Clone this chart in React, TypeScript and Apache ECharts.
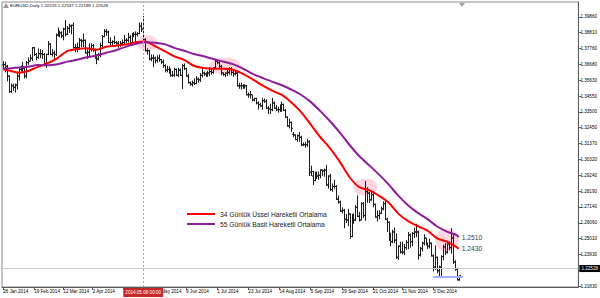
import React, { useEffect, useRef } from "react";
import * as echarts from "echarts";

const SYMBOL = "EURUSD,Daily";
const FIRST_DAY = "2014-01-28";
const SLOT_COUNT = 296;
const FONT = "Liberation Sans";

// rows: [open, close, low, high]
const janBars = [
  [1.3665, 1.3667, 1.364, 1.369],
  [1.3667, 1.3655, 1.3615, 1.3685],
  [1.3655, 1.359, 1.3555, 1.3665],
  [1.359, 1.3486, 1.3478, 1.3595],
];
const febBars = [
  [1.3486, 1.3525, 1.3476, 1.354],
  [1.3525, 1.3515, 1.349, 1.354],
  [1.3515, 1.353, 1.348, 1.354],
  [1.353, 1.359, 1.35, 1.362],
  [1.359, 1.3635, 1.356, 1.3645],
  [1.3635, 1.364, 1.362, 1.366],
  [1.364, 1.364, 1.362, 1.3685],
  [1.364, 1.359, 1.3575, 1.3655],
  [1.359, 1.368, 1.3575, 1.369],
  [1.368, 1.369, 1.3665, 1.3715],
  [1.369, 1.371, 1.369, 1.3735],
  [1.371, 1.378, 1.369, 1.3785],
  [1.378, 1.3735, 1.3725, 1.3785],
  [1.3735, 1.3715, 1.3695, 1.3745],
  [1.3715, 1.374, 1.3705, 1.3775],
  [1.374, 1.374, 1.371, 1.377],
  [1.374, 1.3735, 1.3705, 1.3765],
  [1.3735, 1.3675, 1.3655, 1.3745],
  [1.3675, 1.3735, 1.3645, 1.374],
  [1.3735, 1.3805, 1.373, 1.3825],
];
const marBars = [
  [1.3805, 1.3735, 1.373, 1.381],
  [1.3735, 1.3745, 1.372, 1.377],
  [1.3745, 1.3735, 1.3705, 1.376],
  [1.3735, 1.3865, 1.3725, 1.3875],
  [1.3865, 1.3875, 1.3855, 1.3915],
  [1.3875, 1.388, 1.385, 1.3895],
  [1.388, 1.386, 1.3845, 1.389],
  [1.386, 1.3905, 1.383, 1.3915],
  [1.3905, 1.387, 1.3855, 1.3967],
  [1.387, 1.391, 1.3865, 1.3925],
  [1.391, 1.3925, 1.388, 1.394],
  [1.3925, 1.393, 1.387, 1.3935],
  [1.393, 1.378, 1.3775, 1.395],
  [1.378, 1.378, 1.375, 1.3805],
  [1.378, 1.378, 1.375, 1.3815],
  [1.378, 1.383, 1.3765, 1.3845],
  [1.383, 1.3825, 1.3785, 1.384],
  [1.3825, 1.383, 1.3785, 1.3875],
  [1.383, 1.3745, 1.374, 1.3835],
  [1.3745, 1.375, 1.3705, 1.377],
  [1.375, 1.377, 1.372, 1.381],
];
const aprBars = [
  [1.377, 1.3795, 1.3755, 1.381],
  [1.3795, 1.3765, 1.375, 1.3805],
  [1.3765, 1.3715, 1.3705, 1.3775],
  [1.3715, 1.3705, 1.367, 1.3735],
  [1.3705, 1.373, 1.3695, 1.3745],
  [1.373, 1.3795, 1.3715, 1.3815],
  [1.3795, 1.3855, 1.3775, 1.3865],
  [1.3855, 1.389, 1.385, 1.3905],
  [1.389, 1.3885, 1.386, 1.3905],
  [1.3885, 1.3815, 1.381, 1.3895],
  [1.3815, 1.3815, 1.379, 1.385],
  [1.3815, 1.382, 1.3795, 1.383],
  [1.382, 1.3815, 1.3805, 1.386],
  [1.3815, 1.381, 1.38, 1.3825],
  [1.381, 1.3795, 1.378, 1.3825],
  [1.3795, 1.381, 1.3785, 1.3825],
  [1.381, 1.3815, 1.379, 1.3835],
  [1.3815, 1.383, 1.3805, 1.3865],
  [1.383, 1.383, 1.381, 1.3845],
  [1.383, 1.385, 1.3815, 1.388],
  [1.385, 1.3815, 1.3795, 1.3865],
  [1.3815, 1.387, 1.381, 1.388],
];
const mayBars = [
  [1.387, 1.387, 1.385, 1.3885],
  [1.387, 1.387, 1.382, 1.389],
  [1.387, 1.3875, 1.3855, 1.3885],
  [1.3875, 1.3925, 1.387, 1.395],
  [1.3925, 1.3905, 1.3885, 1.395],
  [1.3905, 1.3835, 1.383, 1.3993],
  [1.3835, 1.376, 1.3755, 1.3845],
  [1.376, 1.376, 1.3735, 1.3775],
  [1.376, 1.3705, 1.3695, 1.3765],
  [1.3705, 1.371, 1.369, 1.3735],
  [1.371, 1.371, 1.365, 1.3735],
  [1.371, 1.3695, 1.3675, 1.372],
  [1.3695, 1.371, 1.368, 1.373],
  [1.371, 1.37, 1.3685, 1.3735],
  [1.37, 1.3685, 1.367, 1.3705],
  [1.3685, 1.366, 1.3645, 1.37],
  [1.366, 1.363, 1.3615, 1.367],
  [1.363, 1.3635, 1.3615, 1.366],
  [1.3635, 1.363, 1.3605, 1.3655],
  [1.363, 1.3595, 1.3585, 1.364],
  [1.3595, 1.3595, 1.3585, 1.3625],
  [1.3595, 1.3635, 1.3585, 1.3645],
];
const junBars = [
  [1.3635, 1.3595, 1.359, 1.364],
  [1.3595, 1.363, 1.3585, 1.3645],
  [1.363, 1.3595, 1.359, 1.364],
  [1.3595, 1.366, 1.3503, 1.367],
  [1.366, 1.364, 1.363, 1.3675],
  [1.364, 1.359, 1.3585, 1.3645],
  [1.359, 1.3545, 1.354, 1.3605],
  [1.3545, 1.3535, 1.3525, 1.3555],
  [1.3535, 1.3545, 1.352, 1.356],
  [1.3545, 1.354, 1.353, 1.3575],
  [1.354, 1.357, 1.3535, 1.359],
  [1.357, 1.3565, 1.3545, 1.358],
  [1.3565, 1.3595, 1.355, 1.361],
  [1.3595, 1.361, 1.358, 1.364],
  [1.361, 1.3605, 1.359, 1.362],
  [1.3605, 1.3605, 1.3585, 1.3615],
  [1.3605, 1.361, 1.3585, 1.3625],
  [1.361, 1.362, 1.359, 1.365],
  [1.362, 1.3615, 1.36, 1.364],
  [1.3615, 1.3645, 1.3605, 1.365],
  [1.3645, 1.369, 1.3635, 1.37],
];
const julBars = [
  [1.369, 1.368, 1.367, 1.37],
  [1.368, 1.3655, 1.3645, 1.3695],
  [1.3655, 1.361, 1.3595, 1.3665],
  [1.361, 1.36, 1.359, 1.3615],
  [1.36, 1.361, 1.3585, 1.3615],
  [1.361, 1.3615, 1.359, 1.3635],
  [1.3615, 1.364, 1.36, 1.365],
  [1.364, 1.3615, 1.3595, 1.365],
  [1.3615, 1.3605, 1.3585, 1.3625],
  [1.3605, 1.361, 1.3595, 1.363],
  [1.361, 1.3525, 1.352, 1.362],
  [1.3525, 1.3525, 1.3505, 1.3545],
  [1.3525, 1.3525, 1.35, 1.3545],
  [1.3525, 1.3525, 1.3505, 1.3535],
  [1.3525, 1.3525, 1.3505, 1.3535],
  [1.3525, 1.3465, 1.346, 1.353],
  [1.3465, 1.3465, 1.3445, 1.348],
  [1.3465, 1.3465, 1.344, 1.349],
  [1.3465, 1.343, 1.342, 1.3465],
  [1.343, 1.344, 1.342, 1.3445],
  [1.344, 1.341, 1.34, 1.3445],
  [1.341, 1.34, 1.3365, 1.342],
  [1.34, 1.339, 1.3385, 1.341],
];
const augBars = [
  [1.339, 1.3425, 1.3365, 1.3445],
  [1.3425, 1.342, 1.341, 1.344],
  [1.342, 1.3375, 1.337, 1.3435],
  [1.3375, 1.337, 1.3335, 1.339],
  [1.337, 1.3365, 1.3335, 1.3405],
  [1.3365, 1.341, 1.3355, 1.3445],
  [1.341, 1.3375, 1.337, 1.342],
  [1.3375, 1.3365, 1.3355, 1.3395],
  [1.3365, 1.3365, 1.3345, 1.3385],
  [1.3365, 1.336, 1.335, 1.34],
  [1.336, 1.34, 1.335, 1.342],
  [1.34, 1.336, 1.3355, 1.3405],
  [1.336, 1.3315, 1.331, 1.337],
  [1.3315, 1.3255, 1.325, 1.332],
  [1.3255, 1.328, 1.324, 1.3305],
  [1.328, 1.324, 1.3215, 1.3285],
  [1.32, 1.3195, 1.318, 1.3215],
  [1.3195, 1.3165, 1.316, 1.32],
  [1.3165, 1.319, 1.315, 1.32],
  [1.319, 1.318, 1.315, 1.3215],
  [1.318, 1.313, 1.312, 1.319],
];
const sepBars = [
  [1.313, 1.313, 1.312, 1.3145],
  [1.313, 1.313, 1.311, 1.315],
  [1.313, 1.315, 1.3115, 1.317],
  [1.315, 1.2945, 1.292, 1.316],
  [1.2945, 1.295, 1.292, 1.299],
  [1.292, 1.289, 1.286, 1.2955],
  [1.289, 1.294, 1.2885, 1.295],
  [1.294, 1.292, 1.29, 1.295],
  [1.292, 1.2925, 1.2895, 1.295],
  [1.2925, 1.296, 1.2905, 1.2965],
  [1.296, 1.2955, 1.292, 1.2965],
  [1.2955, 1.296, 1.2915, 1.297],
  [1.296, 1.286, 1.2855, 1.2995],
  [1.286, 1.292, 1.2835, 1.2925],
  [1.292, 1.283, 1.282, 1.2935],
  [1.283, 1.285, 1.2815, 1.287],
  [1.285, 1.285, 1.2835, 1.2895],
  [1.285, 1.2765, 1.276, 1.286],
  [1.2765, 1.2745, 1.2735, 1.279],
  [1.2745, 1.2685, 1.268, 1.2755],
  [1.2685, 1.269, 1.267, 1.271],
  [1.269, 1.263, 1.257, 1.27],
];
const octBars = [
  [1.263, 1.2625, 1.2605, 1.2665],
  [1.2625, 1.2665, 1.2585, 1.27],
  [1.2665, 1.2515, 1.25, 1.267],
  [1.2515, 1.266, 1.251, 1.2665],
  [1.266, 1.2625, 1.26, 1.267],
  [1.2625, 1.271, 1.262, 1.2725],
  [1.271, 1.265, 1.2645, 1.279],
  [1.265, 1.2625, 1.2615, 1.268],
  [1.2625, 1.2735, 1.2625, 1.2745],
  [1.2735, 1.2655, 1.264, 1.2745],
  [1.2655, 1.2815, 1.262, 1.2887],
  [1.2815, 1.2805, 1.274, 1.2845],
  [1.2805, 1.276, 1.274, 1.2815],
  [1.276, 1.2795, 1.2755, 1.2825],
  [1.2795, 1.273, 1.271, 1.282],
  [1.273, 1.2645, 1.264, 1.2735],
  [1.2645, 1.2655, 1.2615, 1.269],
  [1.2655, 1.267, 1.263, 1.269],
  [1.267, 1.27, 1.2665, 1.2715],
  [1.27, 1.2735, 1.269, 1.275],
  [1.2735, 1.263, 1.2625, 1.276],
  [1.263, 1.261, 1.2545, 1.264],
  [1.261, 1.2525, 1.2485, 1.2615],
];
const novBars = [
  [1.2525, 1.248, 1.245, 1.254],
  [1.248, 1.2545, 1.247, 1.256],
  [1.2545, 1.249, 1.247, 1.2575],
  [1.249, 1.2375, 1.2365, 1.2535],
  [1.2375, 1.245, 1.2358, 1.2455],
  [1.245, 1.241, 1.24, 1.248],
  [1.241, 1.241, 1.2395, 1.248],
  [1.241, 1.244, 1.239, 1.2465],
  [1.244, 1.2475, 1.2425, 1.249],
  [1.2475, 1.2525, 1.243, 1.2545],
  [1.2525, 1.248, 1.244, 1.2535],
  [1.248, 1.2535, 1.245, 1.2545],
  [1.2535, 1.2545, 1.2505, 1.2575],
  [1.2545, 1.2545, 1.251, 1.26],
  [1.2545, 1.239, 1.236, 1.2555],
  [1.239, 1.2435, 1.238, 1.2445],
  [1.2435, 1.247, 1.2415, 1.248],
  [1.247, 1.2505, 1.2455, 1.253],
  [1.2505, 1.2465, 1.2455, 1.2505],
  [1.2465, 1.245, 1.243, 1.2475],
];
const decBars = [
  [1.245, 1.247, 1.2435, 1.25],
  [1.247, 1.2385, 1.238, 1.2475],
  [1.2385, 1.231, 1.228, 1.2395],
  [1.231, 1.2375, 1.229, 1.2455],
  [1.2375, 1.2285, 1.227, 1.238],
  [1.2285, 1.231, 1.2245, 1.232],
  [1.231, 1.238, 1.2245, 1.239],
  [1.238, 1.2445, 1.2355, 1.246],
  [1.2445, 1.241, 1.239, 1.247],
  [1.241, 1.2465, 1.24, 1.2475],
  [1.2465, 1.244, 1.2425, 1.248],
  [1.244, 1.2505, 1.24, 1.257],
  [1.2505, 1.2345, 1.233, 1.2525],
  [1.2345, 1.2295, 1.2285, 1.2355],
  [1.2295, 1.2225, 1.222, 1.2305],
  [1.22225, 1.22528, 1.22189, 1.22537],
];

const xLabelDates = [
  "2014.01.28", "2014.02.19", "2014.03.12", "2014.04.02", "2014.04.24",
  "2014.05.16", "2014.06.09", "2014.07.01", "2014.07.23", "2014.08.14",
  "2014.09.05", "2014.09.29", "2014.10.21", "2014.11.11", "2014.12.03",
];
const priceTicks = [
  1.3986, 1.3881, 1.3776, 1.3668, 1.3563, 1.3455, 1.335, 1.3245, 1.3137,
  1.3032, 1.2924, 1.2819, 1.2714, 1.2606, 1.2501, 1.2393, 1.2288, 1.2183,
];

const emaName = "34 Günlük Üssel Hareketli Ortalama";
const smaName = "55 Günlük Basit Hareketli Ortalama";
const emaPoints = [
  ["2014.01.28", 1.3636], ["2014.01.31", 1.3628], ["2014.02.07", 1.3613], ["2014.02.14", 1.3624],
  ["2014.02.21", 1.3652], ["2014.02.28", 1.3677], ["2014.03.07", 1.3711], ["2014.03.14", 1.3757],
  ["2014.03.21", 1.3771], ["2014.03.28", 1.3776], ["2014.04.04", 1.3766], ["2014.04.11", 1.3787],
  ["2014.04.18", 1.3794], ["2014.04.25", 1.3801], ["2014.05.02", 1.3816], ["2014.05.09", 1.3822],
  ["2014.05.16", 1.3791], ["2014.05.23", 1.3758], ["2014.05.30", 1.3722], ["2014.06.06", 1.3699],
  ["2014.06.13", 1.3659], ["2014.06.20", 1.3644], ["2014.06.27", 1.3639], ["2014.07.04", 1.3639],
  ["2014.07.11", 1.3633], ["2014.07.18", 1.3607], ["2014.07.25", 1.357], ["2014.08.01", 1.3529],
  ["2014.08.08", 1.3494], ["2014.08.15", 1.3465], ["2014.08.22", 1.3415], ["2014.08.29", 1.335],
  ["2014.09.05", 1.3266], ["2014.09.12", 1.318], ["2014.09.19", 1.3106], ["2014.09.26", 1.3015],
  ["2014.10.03", 1.2912], ["2014.10.10", 1.2845], ["2014.10.17", 1.2826], ["2014.10.24", 1.2789],
  ["2014.10.31", 1.2743], ["2014.11.07", 1.2668], ["2014.11.14", 1.2618], ["2014.11.21", 1.2585],
  ["2014.11.28", 1.2554], ["2014.12.05", 1.2502], ["2014.12.12", 1.2481], ["2014.12.19", 1.2443],
  ["2014.12.22", 1.2432],
];
const smaPoints = [
  ["2014.01.28", 1.364], ["2014.01.31", 1.3641], ["2014.02.07", 1.3647], ["2014.02.14", 1.3653],
  ["2014.02.21", 1.3664], ["2014.02.28", 1.3662], ["2014.03.07", 1.3669], ["2014.03.14", 1.3687],
  ["2014.03.21", 1.3699], ["2014.03.28", 1.3716], ["2014.04.04", 1.3728], ["2014.04.11", 1.3746],
  ["2014.04.18", 1.3763], ["2014.04.25", 1.3786], ["2014.05.02", 1.3805], ["2014.05.09", 1.3816],
  ["2014.05.16", 1.3814], ["2014.05.23", 1.3804], ["2014.05.30", 1.3779], ["2014.06.06", 1.376],
  ["2014.06.13", 1.3738], ["2014.06.20", 1.3723], ["2014.06.27", 1.3704], ["2014.07.04", 1.3688],
  ["2014.07.11", 1.367], ["2014.07.18", 1.3642], ["2014.07.25", 1.3606], ["2014.08.01", 1.3579],
  ["2014.08.08", 1.3553], ["2014.08.15", 1.353], ["2014.08.22", 1.35], ["2014.08.29", 1.3465],
  ["2014.09.05", 1.3417], ["2014.09.12", 1.3355], ["2014.09.19", 1.3287], ["2014.09.26", 1.3211],
  ["2014.10.03", 1.3128], ["2014.10.10", 1.3053], ["2014.10.17", 1.2993], ["2014.10.24", 1.2931],
  ["2014.10.31", 1.2864], ["2014.11.07", 1.2789], ["2014.11.14", 1.2724], ["2014.11.21", 1.2673],
  ["2014.11.28", 1.2631], ["2014.12.05", 1.2582], ["2014.12.12", 1.2548], ["2014.12.19", 1.2524],
  ["2014.12.22", 1.251],
];
const maEndLabels = ["1.2430", "1.2510"];

const highlightPoints = [
  ["2014.05.12", 1.3812],
  ["2014.07.07", 1.3658],
  ["2014.10.15", 1.2847],
  ["2014.12.12", 1.2491],
];
const highlightSizes = [[21, 16], [32, 17], [24, 17], [24, 23]];

const crosshairDate = "2014.05.08";
const supportFrom = "2014.12.03";
const supportTo = "2014.12.24";
const supportPrice = 1.2245;

const MONTHS = ["Jan", "Feb", "Mar", "Apr", "May", "Jun", "Jul", "Aug", "Sep", "Oct", "Nov", "Dec"];

function buildCategories(): string[] {
  const out: string[] = [];
  const d = new Date(FIRST_DAY + "T00:00:00Z");
  while (out.length < SLOT_COUNT) {
    const wd = d.getUTCDay();
    if (wd !== 0 && wd !== 6) {
      out.push(
        `${d.getUTCFullYear()}.${String(d.getUTCMonth() + 1).padStart(2, "0")}.${String(d.getUTCDate()).padStart(2, "0")}`
      );
    }
    d.setUTCDate(d.getUTCDate() + 1);
  }
  return out;
}

const fmt5 = (v: number) => v.toFixed(5);

export default function App() {
  const ref = useRef<HTMLDivElement>(null);

  useEffect(() => {
    if (!ref.current) return;
    const chart = echarts.init(ref.current, null, { renderer: "svg" });
    const categories = buildCategories();
    const allBars = [
      ...janBars, ...febBars, ...marBars, ...aprBars, ...mayBars, ...junBars,
      ...julBars, ...augBars, ...sepBars, ...octBars, ...novBars, ...decBars,
    ];
    const last = allBars[allBars.length - 1];
    const lastClose = last[1];
    const showLabel = (_i: number, v: string) => xLabelDates.includes(v);
    const barColor = "#1c1c1c";

    const option: any = {
      animation: false,
      backgroundColor: "#ffffff",
      textStyle: { fontFamily: FONT },
      title: {
        text: `${SYMBOL} ${fmt5(last[0])} ${fmt5(last[3])} ${fmt5(last[2])} ${fmt5(last[1])}`,
        left: 10,
        top: 3,
        padding: 0,
        textStyle: { fontSize: 4.4, fontWeight: "normal", color: "#000", fontFamily: FONT },
      },
      legend: {
        data: [emaName, smaName],
        orient: "vertical",
        left: 187,
        top: 209,
        padding: 0,
        itemGap: 0,
        itemWidth: 28,
        itemHeight: 2,
        icon: "rect",
        selectedMode: false,
        textStyle: { fontSize: 6.7, color: "#1a1a1a", lineHeight: 10, fontFamily: FONT },
      },
      grid: {
        left: 2,
        right: 21,
        top: 2,
        bottom: 11,
        show: true,
        borderColor: "#8a8a8a",
        borderWidth: 1,
      },
      xAxis: {
        type: "category",
        data: categories,
        boundaryGap: true,
        axisLine: { lineStyle: { color: "#5a5a5a" } },
        axisTick: {
          show: true,
          alignWithLabel: true,
          interval: showLabel,
          length: 3,
          lineStyle: { color: "#5a5a5a" },
        },
        axisLabel: {
          interval: showLabel,
          formatter: (v: string) => {
            const [y, m, d] = v.split(".");
            return `${+d} ${MONTHS[+m - 1]} ${y}`;
          },
          align: "left",
          fontSize: 4.6,
          color: "#000",
          margin: 2,
          fontFamily: FONT,
        },
        splitLine: { show: false },
      },
      yAxis: {
        type: "value",
        position: "right",
        min: 1.21763,
        max: 1.40865,
        axisLine: { show: true, lineStyle: { color: "#5a5a5a" } },
        axisTick: { show: true, length: 3, customValues: priceTicks, lineStyle: { color: "#5a5a5a" } },
        axisLabel: {
          customValues: priceTicks,
          formatter: (v: number) => v.toFixed(5),
          fontSize: 4.6,
          color: "#000",
          margin: 2,
          fontFamily: FONT,
        },
        splitLine: { show: false },
      },
      graphic: [
        { type: "polygon", shape: { points: [[459, 3], [465, 3], [462, 7]] }, style: { fill: "#a0a0a0" } },
        { type: "polygon", shape: { points: [[3, 8], [6, 3], [9, 8]] }, style: { fill: "#9a9a9a" } },
      ],
      series: [
        {
          type: "scatter",
          name: "highlights",
          data: highlightPoints,
          symbol: "circle",
          symbolSize: (_v: any, p: any) => highlightSizes[p.dataIndex],
          itemStyle: { color: "rgba(255,120,150,0.38)" },
          silent: true,
          z: 1,
        },
        {
          type: "custom",
          name: "EURUSD",
          data: allBars.map((b, i) => [i, b[0], b[1], b[2], b[3]]),
          encode: { x: 0, y: [1, 2, 3, 4] },
          silent: true,
          z: 2,
          renderItem: (_params: any, api: any) => {
            const x = api.value(0);
            const o = api.coord([x, api.value(1)]);
            const c = api.coord([x, api.value(2)]);
            const l = api.coord([x, api.value(3)]);
            const h = api.coord([x, api.value(4)]);
            const px = Math.round(o[0]) + 0.5;
            const st = { stroke: barColor, lineWidth: 1 };
            return {
              type: "group",
              children: [
                { type: "line", shape: { x1: px, y1: l[1], x2: px, y2: h[1] }, style: st },
                { type: "line", shape: { x1: px - 1.5, y1: o[1], x2: px, y2: o[1] }, style: st },
                { type: "line", shape: { x1: px, y1: c[1], x2: px + 1.5, y2: c[1] }, style: st },
              ],
            };
          },
        },
        {
          type: "line",
          name: emaName,
          data: emaPoints,
          symbol: "none",
          showSymbol: false,
          smooth: 0.3,
          color: "#ff0000",
          lineStyle: { color: "#ff0000", width: 2 },
          z: 4,
          endLabel: {
            show: true,
            formatter: maEndLabels[0],
            color: "#333a44",
            fontSize: 6.7,
            distance: 3,
            fontFamily: FONT,
          },
          markLine: {
            silent: true,
            symbol: ["none", "none"],
            data: [
              {
                xAxis: crosshairDate,
                lineStyle: { color: "#ee8a8a", type: [2, 2], width: 1 },
                label: {
                  show: true,
                  position: "start",
                  formatter: `${crosshairDate} 00:00`,
                  backgroundColor: "#c62828",
                  color: "#fff",
                  fontSize: 4.6,
                  padding: [2, 2],
                  distance: 1,
                  fontFamily: FONT,
                },
              },
              {
                yAxis: lastClose,
                lineStyle: { color: "#c8c8c8", type: "solid", width: 1 },
                label: {
                  show: true,
                  position: "end",
                  formatter: fmt5(lastClose),
                  backgroundColor: "#000",
                  color: "#fff",
                  fontSize: 4.6,
                  padding: [1, 2],
                  distance: 1,
                  fontFamily: FONT,
                },
              },
              [
                {
                  coord: [supportFrom, supportPrice],
                  lineStyle: { color: "#a4acff", type: "solid", width: 2 },
                  label: { show: false },
                },
                {
                  coord: [supportTo, supportPrice],
                  lineStyle: { color: "#a4acff", type: "solid", width: 2 },
                  label: { show: false },
                },
              ],
            ],
          },
        },
        {
          type: "line",
          name: smaName,
          data: smaPoints,
          symbol: "none",
          showSymbol: false,
          smooth: 0.3,
          color: "#8e1d9c",
          lineStyle: { color: "#8e1d9c", width: 2 },
          z: 4,
          endLabel: {
            show: true,
            formatter: maEndLabels[1],
            color: "#333a44",
            fontSize: 6.7,
            distance: 3,
            fontFamily: FONT,
          },
        },
      ],
    };

    chart.setOption(option);
    return () => chart.dispose();
  }, []);

  return (
    <div
      ref={ref}
      style={{ position: "fixed", left: 0, top: 0, width: 600, height: 298 }}
    />
  );
}
